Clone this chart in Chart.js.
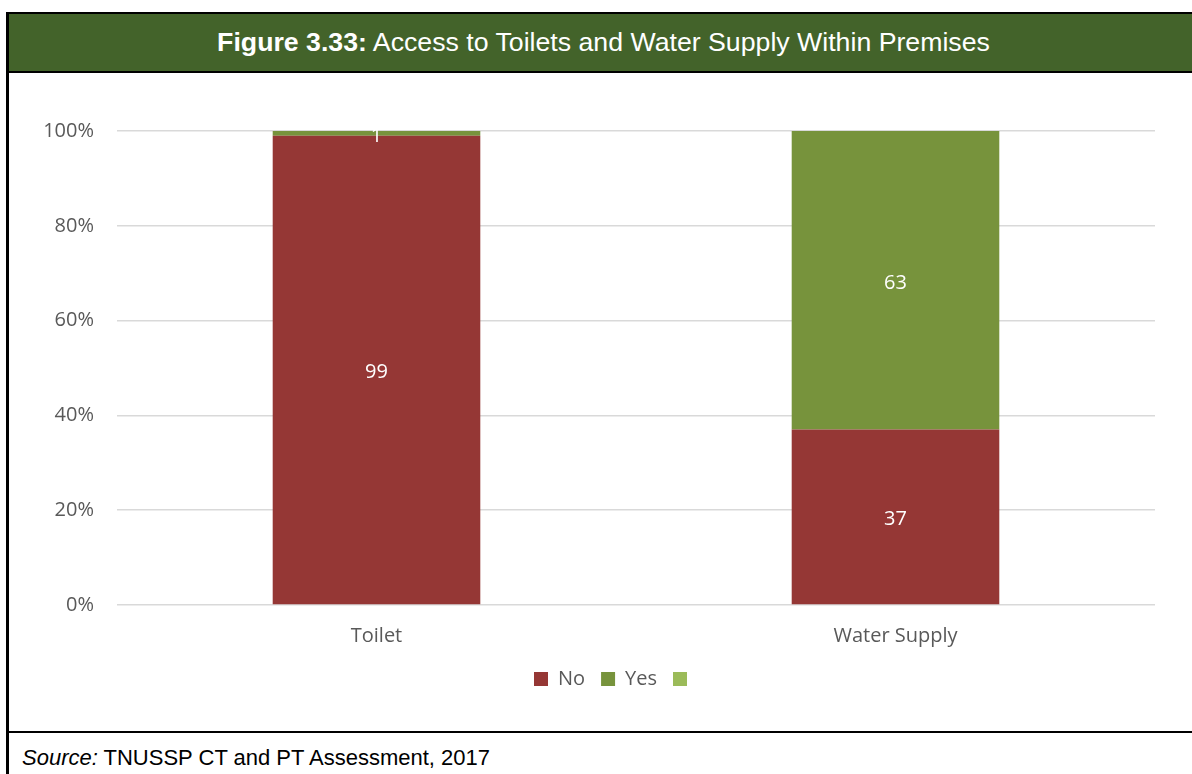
<!DOCTYPE html>
<html>
<head>
<meta charset="utf-8">
<script src="https://cdn.jsdelivr.net/npm/chart.js@4"></script>
<style>
  html, body { margin: 0; padding: 0; background: #fff; overflow: hidden; }
  body { width: 1192px; height: 774px; position: relative; }
  #frame {
    position: absolute; left: 6px; top: 12px; width: 1192px; height: 800px;
    border-left: 3px solid #000; border-top: 2px solid #000;
  }
  #head {
    position: absolute; left: 0; top: 0; width: 1189px; height: 57px;
    background: #43632a; border-bottom: 2px solid #000;
    color: #fff; font-family: Arial, "Liberation Sans", sans-serif; font-size: 26.7px;
    line-height: 57px; text-align: center; white-space: nowrap;
  }
  #plot { position: absolute; left: 0; top: 59px; width: 1189px; height: 658px; }
  #foot {
    position: absolute; left: 0; top: 717px; width: 1189px; height: 60px;
    border-top: 2px solid #000; box-sizing: border-box;
    font-family: Arial, "Liberation Sans", sans-serif; font-size: 22px; color: #000;
    line-height: 30px; padding: 10px 0 0 13px; white-space: nowrap;
  }
</style>
</head>
<body>
<div id="frame">
  <div id="head"><b>Figure 3.33:</b> Access to Toilets and Water Supply Within Premises</div>
  <div id="plot"><canvas id="c" width="1189" height="658"></canvas></div>
  <div id="foot"><i>Source:</i> TNUSSP CT and PT Assessment, 2017</div>
</div>
<script>
// Share of households (%) by facility
const categories = ['Toilet', 'Water Supply'];
const noValues = [99, 37];
const yesValues = [1, 63];
const otherValues = [0, 0];
const seriesNames = ['No', 'Yes', ''];
const yTicks = [0, 20, 40, 60, 80, 100];

const FONT = '"Open Sans", sans-serif';

// White value labels centred in each stacked segment
const segmentLabels = {
  id: 'segmentLabels',
  afterDatasetsDraw(chart) {
    const ctx = chart.ctx;
    ctx.save();
    ctx.font = '20px ' + FONT;
    ctx.fillStyle = '#ffffff';
    ctx.textAlign = 'center';
    ctx.textBaseline = 'middle';
    chart.data.datasets.forEach((ds, di) => {
      if (!ds.showValues) return;
      const meta = chart.getDatasetMeta(di);
      meta.data.forEach((bar, i) => {
        const v = ds.data[i];
        if (!v) return;
        const p = bar.getProps(['x', 'y', 'base'], true);
        ctx.fillText(String(v), p.x, (p.y + p.base) / 2 + 2.5);
      });
    });
    ctx.restore();
  }
};

// Legend row is centred a little right of the canvas middle
const legendOffset = {
  id: 'legendOffset',
  afterLayout(chart) {
    if (chart.legend) chart.legend.left = 67;
  }
};

new Chart(document.getElementById('c'), {
  type: 'bar',
  data: {
    labels: categories,
    datasets: [
      { label: seriesNames[0], data: noValues, backgroundColor: '#953735', showValues: true },
      { label: seriesNames[1], data: yesValues, backgroundColor: '#77933c', showValues: true },
      { label: seriesNames[2], data: otherValues, backgroundColor: '#9bbb59', showValues: false }
    ]
  },
  options: {
    responsive: false,
    animation: false,
    events: [],
    datasets: { bar: { categoryPercentage: 1, barPercentage: 0.4, borderWidth: 0 } },
    layout: { padding: { top: 58, right: 43, bottom: 32, left: 0 } },
    plugins: {
      tooltip: { enabled: false },
      legend: {
        position: 'bottom',
        labels: {
          font: { family: FONT, size: 20 },
          color: '#595959',
          boxWidth: 14,
          boxHeight: 14,
          padding: 16
        }
      }
    },
    scales: {
      x: {
        stacked: true,
        grid: { display: false, drawTicks: false },
        border: { display: false },
        ticks: { font: { family: FONT, size: 20 }, color: '#595959', padding: 19 },
        afterFit(scale) { scale.height = 48; }
      },
      y: {
        stacked: true,
        min: 0,
        max: 100,
        grid: { color: '#d9d9d9', lineWidth: 1.5, drawTicks: false },
        border: { display: false },
        afterBuildTicks(scale) { scale.ticks = yTicks.map(v => ({ value: v })); },
        ticks: {
          font: { family: FONT, size: 20 },
          color: '#595959',
          padding: 23,
          callback: v => v + '%'
        },
        afterFit(scale) { scale.width = 108; }
      }
    }
  },
  plugins: [segmentLabels, legendOffset]
});
</script>
</body>
</html>
